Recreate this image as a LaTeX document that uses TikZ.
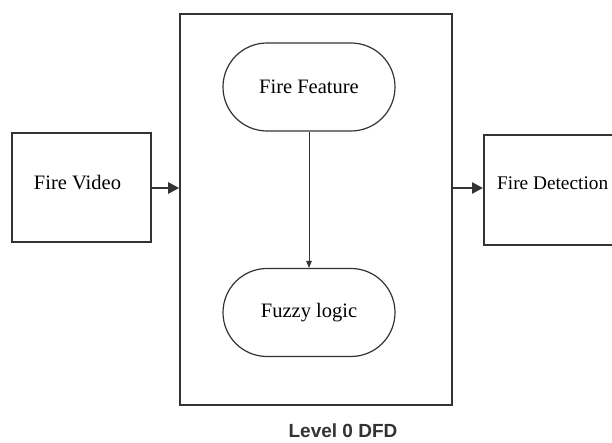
\documentclass[tikz,border=0pt]{standalone}
\usepackage{fontspec}
\setmainfont{Liberation Serif}
\newfontfamily\capfont{Liberation Sans}
\usetikzlibrary{arrows.meta}
\definecolor{ink}{HTML}{333333}
\begin{document}
\begin{tikzpicture}[x=1pt,y=-1pt,
  every node/.style={font=\fontsize{20.5}{23}\selectfont, text=black},
  boxstyle/.style={draw=ink, line width=1.6pt, inner sep=0pt},
  procstyle/.style={draw=ink, line width=1.2pt, rounded corners=44pt, minimum width=172pt, minimum height=88pt, inner sep=0pt},
  flowarrow/.style={draw=ink, line width=2.4pt, -{Triangle[length=11pt,width=11pt]}},
  innerarrow/.style={draw=ink, line width=1pt, -{Triangle[length=7pt,width=5.5pt]}}]
\useasboundingbox (0,0) rectangle (612,443);
\clip (0,0) rectangle (612,443);
\fill[white] (0,0) rectangle (612,443);
% system boundary
\node[boxstyle, minimum width=272pt, minimum height=391pt] (sys) at (316,209.5) {};
% external entities
\node[boxstyle, minimum width=139pt, minimum height=109pt] (fv) at (81.5,187.5) {};
\node at (77.5,183) {Fire Video};
\node[boxstyle, minimum width=150pt, minimum height=110pt, anchor=west] (fd) at (483,190) {};
\node[anchor=west, inner xsep=0pt, font=\fontsize{19.3}{22}\selectfont] (fdt) at (497,183) {Fire Detection};
% processes
\node[procstyle] (ff) at (309,87) {Fire Feature};
\node[procstyle] (fl) at (309,312.5) {Fuzzy logic};
% caption
\node[font=\capfont\bfseries\fontsize{19}{22}\selectfont, text=ink] (cap) at (343,431) {Level 0 DFD};
% flows
\draw[flowarrow] (fv.east |- 0,188) -- (sys.west |- 0,188);
\draw[flowarrow] (sys.east |- 0,188) -- (fd.west |- 0,188);
\draw[innerarrow] (ff.south) -- (fl.north);
\end{tikzpicture}
\end{document}
